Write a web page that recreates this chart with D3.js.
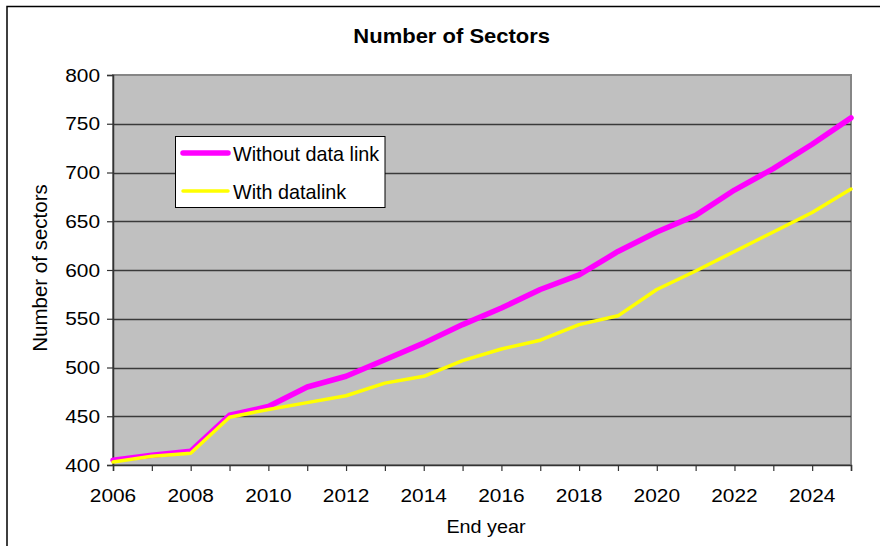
<!DOCTYPE html>
<html>
<head>
<meta charset="utf-8">
<script src="https://cdn.jsdelivr.net/npm/d3@7"></script>
<style>
  html, body { margin: 0; padding: 0; background: #fff; }
  svg { display: block; font-family: "Liberation Sans", Arial, sans-serif; }
</style>
</head>
<body>
<svg id="chart" width="880" height="546"></svg>
<script>
// Projected number of sectors per end year
const years = d3.range(2006, 2026);
const withoutDataLink = [405, 410, 414, 451, 460, 480, 491, 508, 525, 544, 561, 580, 595, 619, 639, 656, 682, 704, 729, 756];
const withDataLink    = [403, 409, 412, 449, 457, 464, 471, 484, 491, 507, 519, 528, 544, 553, 580, 599, 619, 639, 659, 683];
const yTicks = [400, 450, 500, 550, 600, 650, 700, 750, 800];
const xLabelYears = [2006, 2008, 2010, 2012, 2014, 2016, 2018, 2020, 2022, 2024];

const seriesList = [
  { name: "Without data link", values: withoutDataLink, color: "#FF00FF", width: 5.5 },
  { name: "With datalink",     values: withDataLink,    color: "#FFFF00", width: 3.5 }
];

const svg = d3.select("#chart");
const plot = { left: 113, right: 851, top: 75, bottom: 465 };

const x = d3.scaleLinear().domain([2006, 2025]).range([plot.left, plot.right]);
const y = d3.scaleLinear().domain([400, 800]).range([plot.bottom, plot.top]);

// outer frame
svg.append("rect")
  .attr("x", 7).attr("y", 6.5).attr("width", 900).attr("height", 600)
  .attr("fill", "#fff").attr("stroke", "#000").attr("stroke-width", 1.5);

// plot background
svg.append("rect")
  .attr("x", plot.left).attr("y", plot.top)
  .attr("width", plot.right - plot.left).attr("height", plot.bottom - plot.top)
  .attr("fill", "#C0C0C0").attr("stroke", "#868686").attr("stroke-width", 2);

// horizontal gridlines
svg.append("g").selectAll("line")
  .data(yTicks.filter(d => d > 400 && d < 800))
  .join("line")
  .attr("x1", plot.left).attr("x2", plot.right)
  .attr("y1", d => Math.round(y(d)) + 0.5).attr("y2", d => Math.round(y(d)) + 0.5)
  .attr("stroke", "#3a3a3a").attr("stroke-width", 1.3);

// stretched text helper
function label(g, txt, px, py, opts) {
  const t = g.append("text")
    .attr("transform", `translate(${px},${py}) scale(${opts.sx || 1},1)` + (opts.rotate ? ` rotate(${opts.rotate})` : ""))
    .attr("font-size", opts.size)
    .attr("font-weight", opts.weight || "normal")
    .attr("text-anchor", opts.anchor || "start")
    .attr("fill", "#000")
    .text(txt);
  return t;
}

// y axis
const yAxis = d3.axisLeft(y).tickValues(yTicks).tickSize(6).tickFormat("");
const gy = svg.append("g").attr("transform", `translate(${plot.left},0)`).call(yAxis);
gy.select(".domain").attr("stroke", "#333").attr("stroke-width", 1.5);
gy.selectAll(".tick line").attr("stroke", "#333").attr("stroke-width", 1.2);
yTicks.forEach(v => label(svg, String(v), 100, y(v) + 6.7, { size: 18.5, sx: 1.13, anchor: "end" }));

// x axis
const xAxis = d3.axisBottom(x).tickValues(years).tickSize(6).tickFormat("");
const gx = svg.append("g").attr("transform", `translate(0,${plot.bottom})`).call(xAxis);
gx.select(".domain").attr("stroke", "#333").attr("stroke-width", 1.5);
gx.selectAll(".tick line").attr("stroke", "#333").attr("stroke-width", 1.2);
xLabelYears.forEach(v => label(svg, String(v), x(v), 501.5, { size: 18.5, sx: 1.13, anchor: "middle" }));

// series lines
const line = d3.line().x((d, i) => x(years[i])).y(d => y(d));
svg.append("g").selectAll("path")
  .data(seriesList)
  .join("path")
  .attr("d", d => line(d.values))
  .attr("fill", "none")
  .attr("stroke", d => d.color)
  .attr("stroke-width", d => d.width)
  .attr("stroke-linejoin", "round")
  .attr("stroke-linecap", "round");

// titles
label(svg, "Number of Sectors", 451.7, 43, { size: 20, sx: 1.1, weight: "bold", anchor: "middle" });
label(svg, "End year", 486, 532.5, { size: 18, sx: 1.1, anchor: "middle" });
svg.append("text")
  .attr("transform", "translate(46.5,268) rotate(-90)")
  .attr("font-size", 20.5)
  .attr("text-anchor", "middle")
  .text("Number of sectors");

// legend
const legend = svg.append("g");
legend.append("rect")
  .attr("x", 175.5).attr("y", 136.5).attr("width", 209.5).attr("height", 71)
  .attr("fill", "#fff").attr("stroke", "#000").attr("stroke-width", 1);
const rows = [153, 191];
seriesList.forEach((s, i) => {
  legend.append("line")
    .attr("x1", 183).attr("x2", 228)
    .attr("y1", rows[i]).attr("y2", rows[i])
    .attr("stroke", s.color).attr("stroke-width", s.width)
    .attr("stroke-linecap", "round");
  legend.append("text")
    .attr("x", 233).attr("y", rows[i] + 8)
    .attr("font-size", 19.8)
    .text(s.name);
});
</script>
</body>
</html>
